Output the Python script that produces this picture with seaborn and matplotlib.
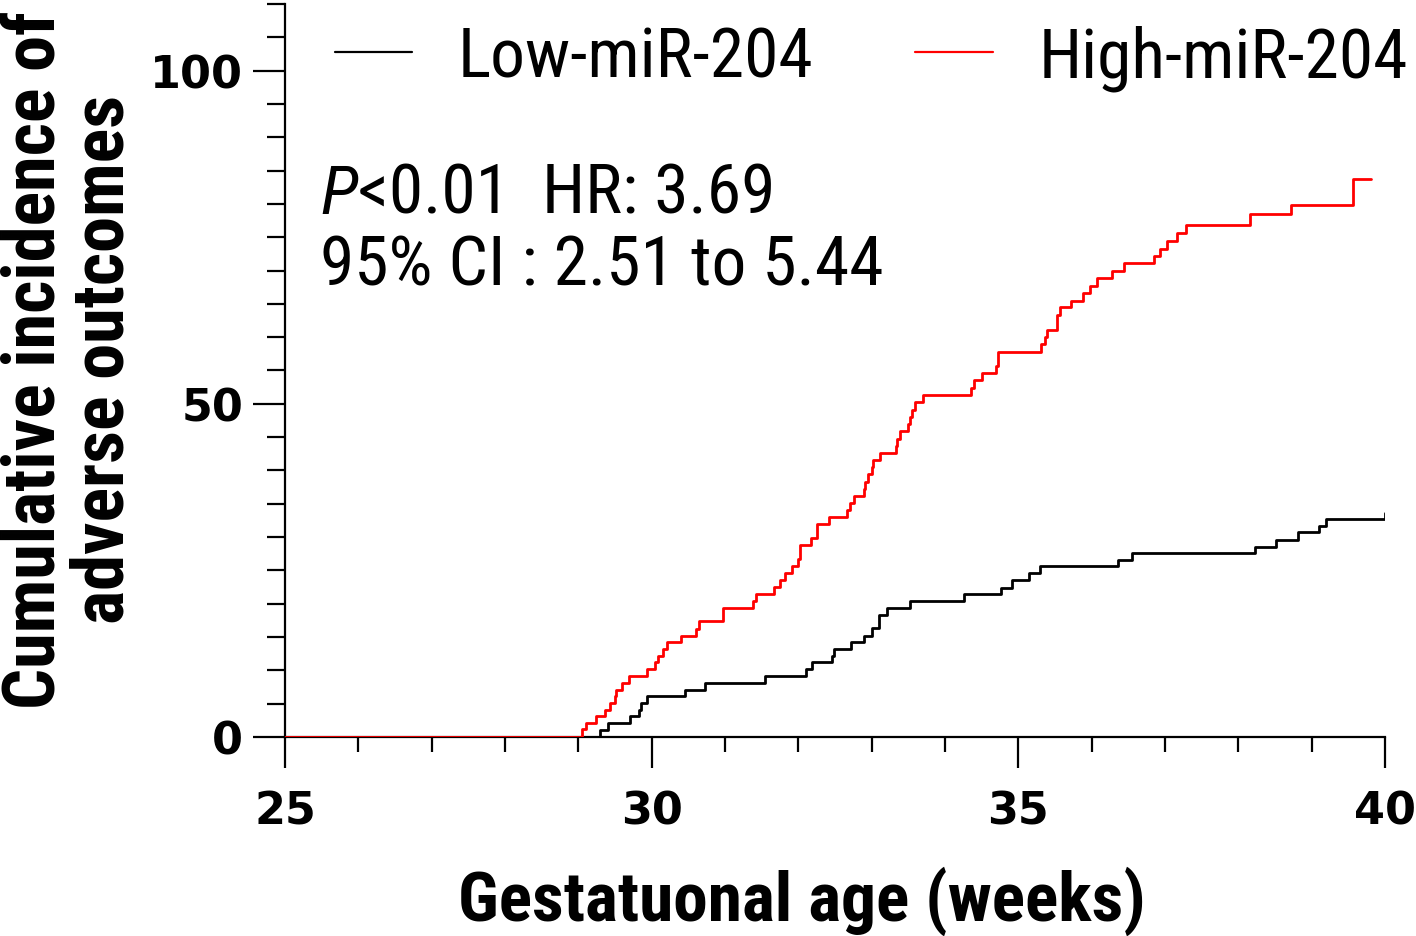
import numpy as np
import pandas as pd
import seaborn as sns
import matplotlib.pyplot as plt
from matplotlib.ticker import MultipleLocator

# --- data (weeks, cumulative incidence %) ---
low_weeks = [25.00, 29.29, 29.41, 29.70, 29.83, 29.86, 29.94, 30.46, 30.73, 31.54,
             32.11, 32.19, 32.46, 32.49, 32.72, 32.89, 33.01, 33.10, 33.21, 33.53,
             34.26, 34.76, 34.92, 35.15, 35.30, 36.36, 36.55, 38.23, 38.51, 38.82,
             39.10, 39.20, 40.00]
low_pct = [0, 1.1, 2.1, 3.1, 4.1, 5.1, 6.1, 7.1, 8.1, 9.2,
           10.2, 11.2, 12.2, 13.2, 14.2, 15.2, 16.3, 18.3, 19.3, 20.4,
           21.4, 22.3, 23.5, 24.6, 25.6, 26.5, 27.6, 28.5, 29.6, 30.7,
           31.6, 32.7, 33.6]

high_weeks = [25.00, 29.05, 29.10, 29.24, 29.36, 29.43, 29.50, 29.52, 29.59, 29.69,
              29.93, 30.05, 30.08, 30.16, 30.21, 30.40, 30.61, 30.65, 30.98, 31.38,
              31.43, 31.67, 31.75, 31.82, 31.91, 32.00, 32.02, 32.17, 32.25, 32.26,
              32.42, 32.66, 32.70, 32.76, 32.89, 32.91, 32.95, 33.00, 33.02, 33.11,
              33.33, 33.35, 33.39, 33.50, 33.52, 33.55, 33.59, 33.70, 34.35, 34.39,
              34.51, 34.70, 34.72, 35.31, 35.36, 35.39, 35.53, 35.57, 35.72, 35.88,
              35.98, 36.07, 36.28, 36.44, 36.85, 36.93, 37.03, 37.16, 37.29, 38.16,
              38.72, 39.56, 39.81]
high_pct = [0, 1.2, 2.1, 3.1, 4.1, 5.1, 6.1, 7.1, 8.1, 9.2,
            10.2, 11.2, 12.2, 13.2, 14.2, 15.2, 16.2, 17.4, 19.3, 20.4,
            21.5, 22.5, 23.6, 24.6, 25.7, 26.7, 28.8, 29.8, 30.9, 31.9,
            33.0, 34.0, 35.1, 36.2, 37.2, 38.2, 39.4, 40.5, 41.6, 42.6,
            43.7, 44.7, 45.9, 47.0, 48.0, 49.1, 50.2, 51.3, 52.3, 53.5,
            54.6, 55.7, 57.8, 58.9, 60.0, 61.1, 63.3, 64.5, 65.5, 66.6,
            67.7, 68.9, 70.0, 71.1, 72.2, 73.3, 74.5, 75.6, 76.8, 78.5,
            79.8, 83.8, 83.8]

group_labels = ['Low-miR-204', 'High-miR-204']
group_colors = ['black', '#FF0000']
x_ticks = [25, 30, 35, 40]
y_ticks = [0, 50, 100]

# --- style ---
sns.set_style('ticks')
for key in ['text.color', 'axes.labelcolor', 'xtick.color', 'ytick.color',
            'axes.edgecolor']:
    plt.rcParams[key] = 'black'

# condensed face for labels (Arial Narrow look-alike)
NARROW = ['Roboto Condensed', 'Noto Sans CJK JP', 'DejaVu Sans']
plt.rcParams['font.family'] = NARROW

fig, ax = plt.subplots(figsize=(14.16, 9.37), dpi=100)
fig.subplots_adjust(left=0.2013, right=0.978, bottom=0.2124, top=0.9947)

for weeks, pct, lab, col in zip([low_weeks, high_weeks], [low_pct, high_pct],
                                group_labels, group_colors):
    sns.lineplot(x=weeks, y=pct, drawstyle='steps-post', estimator=None,
                 color=col, lw=2.0, label=lab, ax=ax, zorder=3)

ax.set_xlim(25, 40)
ax.set_ylim(0, 110)
ax.set_xticks(x_ticks)
ax.set_yticks(y_ticks)
ax.xaxis.set_minor_locator(MultipleLocator(1))
ax.yaxis.set_minor_locator(MultipleLocator(5))
sns.despine(ax=ax)
for s in ['left', 'bottom']:
    ax.spines[s].set_linewidth(1.6)

ax.tick_params(axis='y', which='major', length=23, width=1.6, pad=7)
ax.tick_params(axis='y', which='minor', length=13, width=1.6)
ax.tick_params(axis='x', which='major', length=22, width=1.6, pad=16)
ax.tick_params(axis='x', which='minor', length=11, width=1.6)
for t in ax.get_xticklabels() + ax.get_yticklabels():
    t.set_fontfamily('DejaVu Sans')
    t.set_fontweight('bold')
    t.set_fontsize(32)

ax.set_xlabel('Gestatuonal age (weeks)', fontsize=50, fontweight='bold',
              family=NARROW)
ax.xaxis.set_label_coords(0.47, -0.175)
ax.set_ylabel('Cumulative incidence of\nadverse outcomes', fontsize=52,
              fontweight='bold', family=NARROW, linespacing=1.0)
ax.yaxis.set_label_coords(-0.133, 0.516)

leg = ax.legend(loc='center left', bbox_to_anchor=(0.045, 0.927), ncol=2,
                frameon=False, prop={'family': NARROW, 'size': 50},
                handlelength=1.12, handletextpad=0.65, columnspacing=1.47,
                borderpad=0, borderaxespad=0)
for h in leg.get_lines():
    h.set_linewidth(1.6)

# stats annotation with italic P
p_txt = ax.text(0.032, 0.715, 'P', transform=ax.transAxes, fontsize=50,
                style='italic', family=NARROW, va='baseline')
ax.annotate('<0.01  HR: 3.69', xy=(1, 0), xycoords=p_txt, va='bottom',
            fontsize=50, family=NARROW)
ax.text(0.032, 0.617, '95% CI : 2.51 to 5.44', transform=ax.transAxes,
        fontsize=50, family=NARROW, va='baseline')

fig.savefig('out.png', dpi=100)
